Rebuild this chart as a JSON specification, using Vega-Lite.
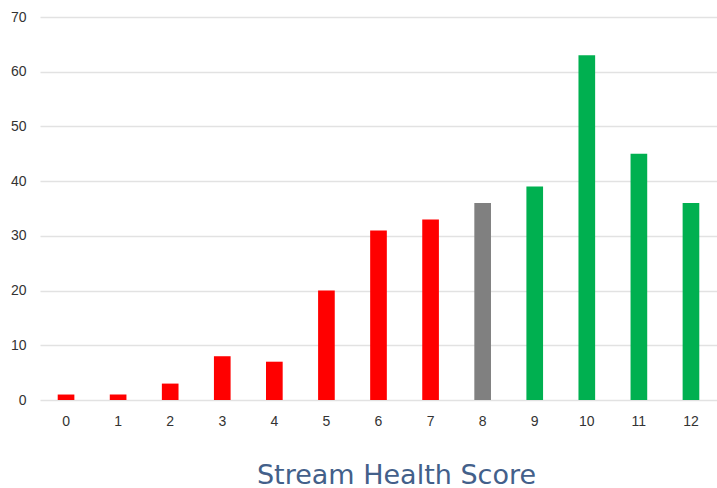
{
  "$schema": "https://vega.github.io/schema/vega-lite/v6.json",
  "autosize": {"type": "none"},
  "width": 677,
  "height": 383,
  "padding": {"left": 40, "top": 17, "right": 0, "bottom": 88},
  "background": "white",
  "config": {"view": {"stroke": null}, "font": "Liberation Sans"},
  "data": {"values": [
    {"score": "0", "count": 1, "group": "poor"},
    {"score": "1", "count": 1, "group": "poor"},
    {"score": "2", "count": 3, "group": "poor"},
    {"score": "3", "count": 8, "group": "poor"},
    {"score": "4", "count": 7, "group": "poor"},
    {"score": "5", "count": 20, "group": "poor"},
    {"score": "6", "count": 31, "group": "poor"},
    {"score": "7", "count": 33, "group": "poor"},
    {"score": "8", "count": 36, "group": "fair"},
    {"score": "9", "count": 39, "group": "good"},
    {"score": "10", "count": 63, "group": "good"},
    {"score": "11", "count": 45, "group": "good"},
    {"score": "12", "count": 36, "group": "good"}
  ]},
  "mark": {"type": "bar"},
  "encoding": {
    "x": {
      "field": "score", "type": "ordinal", "sort": null,
      "scale": {"paddingInner": 0.68, "paddingOuter": 0.34},
      "axis": {
        "title": "Stream Health Score", "titleFont": "DejaVu Sans", "titleFontSize": 27, "titleFontWeight": "normal",
        "titleColor": "#43608a", "titleBaseline": "alphabetic", "titleAlign": "center", "titleX": 356, "titleY": 83,
        "labelAngle": 0, "labelFontSize": 14, "labelColor": "#333333", "labelPadding": 14,
        "domain": false, "ticks": false
      }
    },
    "y": {
      "field": "count", "type": "quantitative",
      "scale": {"domain": [0, 70], "nice": false},
      "axis": {
        "title": null, "values": [0, 10, 20, 30, 40, 50, 60, 70],
        "labelFontSize": 14, "labelColor": "#333333", "labelPadding": 14,
        "domain": false, "ticks": false, "gridColor": "#e2e2e2", "gridWidth": 1.5
      }
    },
    "color": {
      "field": "group", "type": "nominal",
      "scale": {"domain": ["poor", "fair", "good"], "range": ["#ff0000", "#808080", "#00b050"]},
      "legend": null
    }
  }
}
